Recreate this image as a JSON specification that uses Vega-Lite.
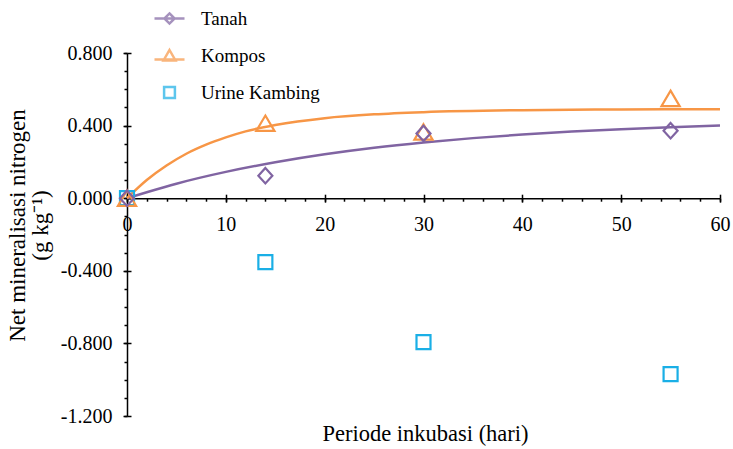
{
  "$schema": "https://vega.github.io/schema/vega-lite/v6.json",
  "width": 593,
  "height": 363,
  "autosize": {"type": "none"},
  "padding": {"left": 127, "top": 53, "right": 13, "bottom": 33},
  "background": "white",
  "config": {
    "view": {"stroke": null},
    "axis": {
      "grid": false,
      "domainColor": "#000",
      "domainWidth": 1.5,
      "tickColor": "#000",
      "tickWidth": 1.5
    }
  },
  "datasets": {
    "obs": [
      {"seri": "Urine Kambing", "hari": 0, "N": 0},
      {"seri": "Urine Kambing", "hari": 14, "N": -0.352},
      {"seri": "Urine Kambing", "hari": 30, "N": -0.793},
      {"seri": "Urine Kambing", "hari": 55, "N": -0.969},
      {"seri": "Kompos", "hari": 0, "N": 0},
      {"seri": "Kompos", "hari": 14, "N": 0.413},
      {"seri": "Kompos", "hari": 30, "N": 0.365},
      {"seri": "Kompos", "hari": 55, "N": 0.55},
      {"seri": "Tanah", "hari": 0, "N": 0},
      {"seri": "Tanah", "hari": 14, "N": 0.124},
      {"seri": "Tanah", "hari": 30, "N": 0.357},
      {"seri": "Tanah", "hari": 55, "N": 0.372}
    ],
    "fit": [
      {"seri": "Tanah", "hari": 0, "N": 0},
      {"seri": "Tanah", "hari": 2, "N": 0.033},
      {"seri": "Tanah", "hari": 5, "N": 0.08},
      {"seri": "Tanah", "hari": 10, "N": 0.145},
      {"seri": "Tanah", "hari": 15, "N": 0.198},
      {"seri": "Tanah", "hari": 20, "N": 0.242},
      {"seri": "Tanah", "hari": 25, "N": 0.278},
      {"seri": "Tanah", "hari": 30, "N": 0.307},
      {"seri": "Tanah", "hari": 35, "N": 0.331},
      {"seri": "Tanah", "hari": 40, "N": 0.351},
      {"seri": "Tanah", "hari": 45, "N": 0.367},
      {"seri": "Tanah", "hari": 50, "N": 0.38},
      {"seri": "Tanah", "hari": 55, "N": 0.391},
      {"seri": "Tanah", "hari": 60, "N": 0.4},
      {"seri": "Kompos", "hari": 0, "N": 0},
      {"seri": "Kompos", "hari": 2, "N": 0.1},
      {"seri": "Kompos", "hari": 4, "N": 0.18},
      {"seri": "Kompos", "hari": 6, "N": 0.245},
      {"seri": "Kompos", "hari": 8, "N": 0.295},
      {"seri": "Kompos", "hari": 10, "N": 0.335},
      {"seri": "Kompos", "hari": 12, "N": 0.368},
      {"seri": "Kompos", "hari": 15, "N": 0.403},
      {"seri": "Kompos", "hari": 20, "N": 0.441},
      {"seri": "Kompos", "hari": 25, "N": 0.462},
      {"seri": "Kompos", "hari": 30, "N": 0.474},
      {"seri": "Kompos", "hari": 40, "N": 0.485},
      {"seri": "Kompos", "hari": 50, "N": 0.489},
      {"seri": "Kompos", "hari": 60, "N": 0.49}
    ]
  },
  "layer": [
    {
      "data": {"name": "obs"},
      "transform": [{"filter": "false"}],
      "mark": {"type": "point", "filled": false, "strokeWidth": 2.5},
      "encoding": {
        "x": {
          "field": "hari", "type": "quantitative",
          "scale": {"domain": [0, 60], "nice": false, "zero": false},
          "axis": {"orient": "bottom", "offset": -217.8, "values": [0,2,4,6,8,10,12,14,16,18,20,22,24,26,28,30,32,34,36,38,40,42,44,46,48,50,52,54,56,58,60], "tickSize": 3, "domain": false, "labels": false, "title": null}
        },
        "y": {
          "field": "N", "type": "quantitative",
          "scale": {"domain": [-1.2, 0.8], "nice": false, "zero": false},
          "axis": {"orient": "left", "values": [-1.2,-1.1,-1.0,-0.9,-0.8,-0.7,-0.6,-0.5,-0.4,-0.3,-0.2,-0.1,0,0.1,0.2,0.3,0.4,0.5,0.6,0.7,0.8], "tickSize": 3, "domain": false, "labels": false, "title": null}
        },
        "color": {
          "field": "seri", "type": "nominal",
          "scale": {"domain": ["Tanah", "Kompos", "Urine Kambing"], "range": ["#8064A2", "#F79646", "#1AAFE6"]},
          "legend": {"title": null, "orient": "none", "legendX": 33, "legendY": -44, "direction": "vertical", "padding": 0, "rowPadding": 15.5, "labelFont": "Liberation Serif", "labelFontSize": 19, "labelColor": "#000", "labelOffset": 22, "symbolSize": 144, "symbolStrokeWidth": 2.5, "labelLimit": 300}
        },
        "shape": {
          "field": "seri", "type": "nominal",
          "scale": {"domain": ["Tanah", "Kompos", "Urine Kambing"], "range": ["M-2.5,0H2.5M0,-0.85L0.85,0L0,0.85L-0.85,0Z", "M-2.5,0.6H2.5M0,-1L1,0.75L-1,0.75Z", "M-0.9,-0.9H0.9V0.9H-0.9Z"]},
          "legend": {"title": null, "orient": "none", "legendX": 33, "legendY": -44, "direction": "vertical", "padding": 0, "rowPadding": 15.5, "labelFont": "Liberation Serif", "labelFontSize": 19, "labelColor": "#000", "labelOffset": 22, "symbolSize": 144, "symbolStrokeWidth": 2.5, "labelLimit": 300}
        }
      }
    },
    {
      "data": {"name": "fit"},
      "mark": {"type": "line", "strokeWidth": 2.5, "interpolate": "monotone"},
      "encoding": {
        "x": {
          "field": "hari", "type": "quantitative",
          "scale": {"domain": [0, 60], "nice": false, "zero": false},
          "axis": {"orient": "bottom", "offset": -217.8, "values": [0,10,20,30,40,50,60], "tickSize": -4, "domain": false, "labels": false, "title": null}
        },
        "y": {
          "field": "N", "type": "quantitative",
          "scale": {"domain": [-1.2, 0.8], "nice": false, "zero": false},
          "axis": {"orient": "left", "values": [-1.2,-0.8,-0.4,0,0.4,0.8], "tickSize": -4, "domain": false, "labels": false, "title": null}
        },
        "color": {
          "field": "seri", "type": "nominal",
          "scale": {"domain": ["Tanah", "Kompos", "Urine Kambing"], "range": ["#8064A2", "#F79646", "#1AAFE6"]},
          "legend": null
        }
      }
    },
    {
      "data": {"name": "obs"},
      "mark": {"type": "point", "filled": false, "strokeWidth": 2.2, "opacity": 1, "size": 196},
      "encoding": {
        "x": {
          "field": "hari", "type": "quantitative",
          "scale": {"domain": [0, 60], "nice": false, "zero": false},
          "axis": {"orient": "bottom", "offset": -217.8, "values": [0,10,20,30,40,50,60], "tickSize": 4, "labelPadding": 12, "labelFlush": false, "labelOverlap": false, "labelFont": "Liberation Serif", "labelFontSize": 20, "labelColor": "#000", "title": "Periode inkubasi (hari)", "titleFont": "Liberation Serif", "titleFontSize": 22.5, "titleFontWeight": "normal", "titleColor": "#000", "titleX": 298, "titleAlign": "center", "titleY": 242, "titleBaseline": "alphabetic"}
        },
        "y": {
          "field": "N", "type": "quantitative",
          "scale": {"domain": [-1.2, 0.8], "nice": false, "zero": false},
          "axis": {"orient": "left", "values": [-1.2,-0.8,-0.4,0,0.4,0.8], "labelExpr": "replace(format(datum.value, '.3f'), '\u2212', '-')", "tickSize": 4, "labelPadding": 11, "labelFont": "Liberation Serif", "labelFontSize": 20, "labelColor": "#000", "title": ["Net mineralisasi nitrogen", "(g kg⁻¹)"], "titleFont": "Liberation Serif", "titleFontSize": 23, "titleFontWeight": "normal", "titleColor": "#000", "titleAngle": -90, "titleX": -110, "titleY": 172, "titleAlign": "center", "titleBaseline": "middle", "titleLineHeight": 23}
        },
        "color": {
          "field": "seri", "type": "nominal",
          "scale": {"domain": ["Tanah", "Kompos", "Urine Kambing"], "range": ["#8064A2", "#F79646", "#1AAFE6"]},
          "legend": null
        },
        "shape": {
          "field": "seri", "type": "nominal",
          "scale": {"domain": ["Tanah", "Kompos", "Urine Kambing"], "range": ["M0,-1.1L1,0L0,1.1L-1,0Z", "M0,-1.1L1.3,1.1L-1.3,1.1Z", "M-1,-1H1V1H-1Z"]},
          "legend": null
        }
      }
    }
  ],
  "resolve": {
    "scale": {"color": "independent", "shape": "independent"},
    "axis": {"x": "independent", "y": "independent"}
  }
}
